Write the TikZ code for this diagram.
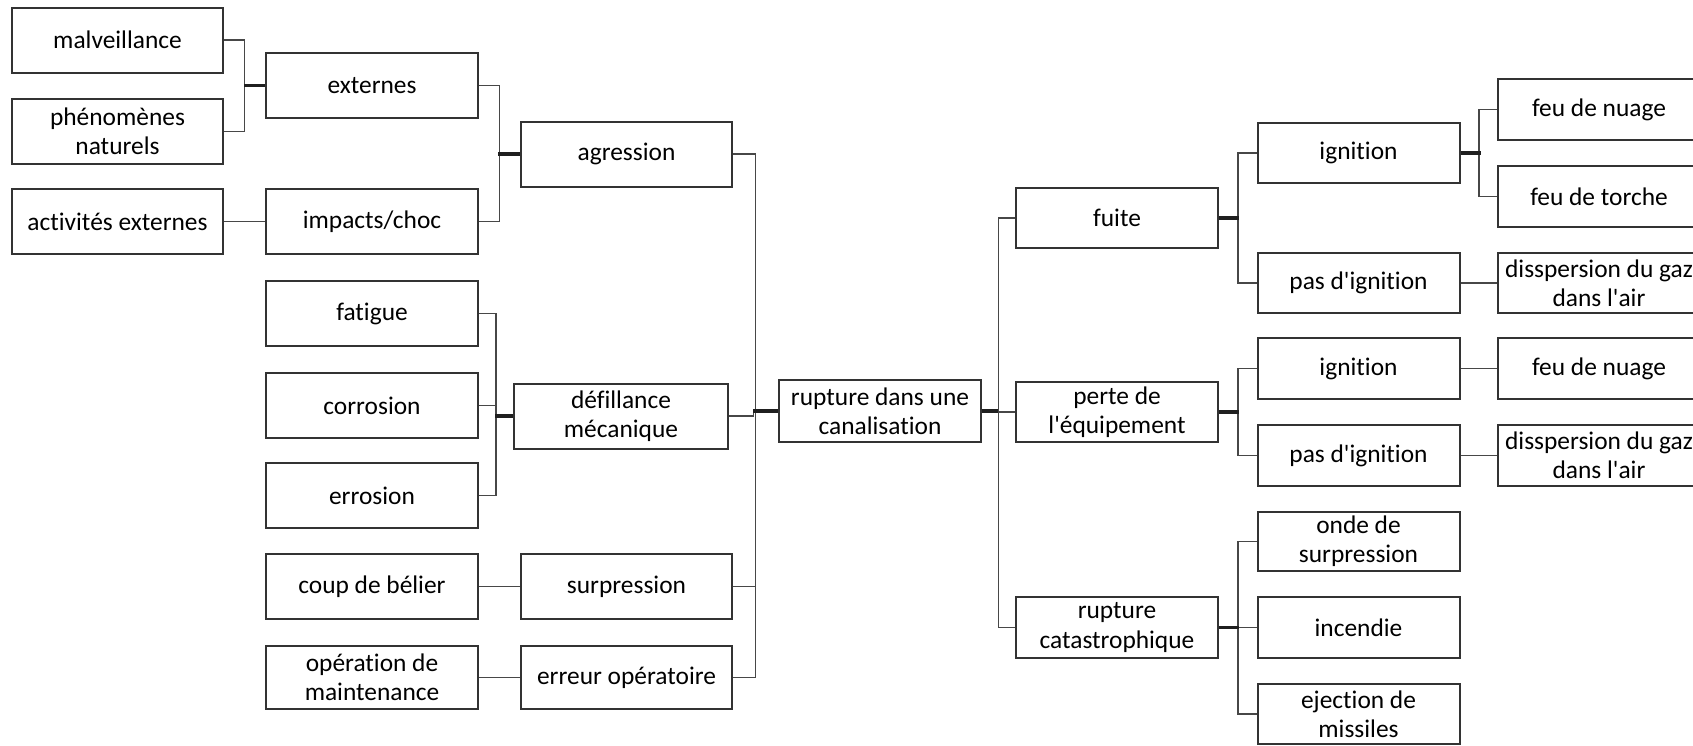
\documentclass[tikz,border=0pt]{standalone}
\usepackage{fontspec}
\newfontfamily\boxfont[Ligatures=NoCommon]{Carlito}
\usetikzlibrary{calc}

% units: one step = one pixel of the drawing, y grows downwards
\tikzset{
  x=0.5pt, y=-0.5pt,
  box/.style={draw=black!80, line width=1pt, fill=white, align=center,
    inner sep=0pt, font=\boxfont\fontsize{12.7}{14.6}\selectfont,
    minimum height=32.5pt},
  wa/.style={minimum width=105.5pt},
  wb/.style={minimum width=106pt},
  wc/.style={minimum width=101pt},
  conn/.style={draw=black!72, line width=0.8pt},
  trunk/.style={draw=black!88, line width=1.6pt},
}
% elbow connector, parent on the right / on the left
\newcommand\linkL[2]{\draw[conn] (#1.west) -| ($(#1.west)!.5!(#2.east)$) |- (#2.east);}
\newcommand\linkR[2]{\draw[conn] (#1.east) -| ($(#1.east)!.5!(#2.west)$) |- (#2.west);}
% shared trunk of a parent with several children
\newcommand\trunkL[2]{\draw[trunk] (#1.west) -- ++(-#2,0);}
\newcommand\trunkR[2]{\draw[trunk] (#1.east) -- ++(#2,0);}

\begin{document}
\begin{tikzpicture}
\useasboundingbox (0,0) rectangle (1693,745);
\clip (0,0) rectangle (1693,745);
\fill[white] (0,0) rectangle (1693,745);

% causes, outer column
\node[box,wa] (malv)  at (117.5,40)  {malveillance};
\node[box,wa] (phen)  at (117.5,131.5) {phénomènes\\naturels};
\node[box,wa] (activ) at (117.5,221.5) {activités externes};

% causes, middle column
\node[box,wb] (ext)   at (372,85.5)  {externes};
\node[box,wb] (imp)   at (372,221.5) {impacts/choc};
\node[box,wb] (fat)   at (372,313.5) {fatigue};
\node[box,wb] (corr)  at (372,405.5) {corrosion};
\node[box,wb] (err)   at (372,495.5) {errosion};
\node[box,wb] (coup)  at (372,586.5) {coup de bélier};
\node[box,wb,minimum height=31.5pt] (oper) at (372,677.5) {opération de\\maintenance};

% causes, inner column
\node[box,wa] (agr)   at (626.5,154) {agression};
\node[box,minimum width=107pt] (def) at (621,416) {défillance\\mécanique};
\node[box,wa] (surp)  at (626.5,586.5) {surpression};
\node[box,wa,minimum height=31.5pt] (erop) at (626.5,677.5) {erreur opératoire};

% central event
\node[box,wc,minimum height=31pt] (rupt) at (880,411) {rupture dans une\\canalisation};

% consequences, first column
\node[box,wc,minimum height=30pt] (fuite) at (1117,218) {fuite};
\node[box,wc,minimum height=30pt] (perte) at (1117,412) {perte de\\l'équipement};
\node[box,wc,minimum height=30.5pt] (rcat) at (1117,627.5) {rupture\\catastrophique};

% consequences, second column
\node[box,wc,minimum height=30pt] (ign1) at (1358.5,153) {ignition};
\node[box,wc,minimum height=30pt] (pas1) at (1358.5,283) {pas d'ignition};
\node[box,wc,minimum height=30.5pt] (ign2) at (1358.5,368.5) {ignition};
\node[box,wc,minimum height=30.5pt] (pas2) at (1358.5,455.5) {pas d'ignition};
\node[box,wc,minimum height=29.5pt] (onde) at (1358.5,541.5) {onde de\\surpression};
\node[box,wc,minimum height=30.5pt] (inc)  at (1358.5,627.5) {incendie};
\node[box,wc,minimum height=30pt] (ejec) at (1358.5,714) {ejection de\\missiles};

% consequences, last column
\node[box,wc,minimum height=30.5pt] (feu1) at (1599,109.5) {feu de nuage};
\node[box,wc,minimum height=30.5pt] (torc) at (1599,196.5) {feu de torche};
\node[box,wc,minimum height=30pt] (dis1) at (1599,283) {disspersion du gaz\\dans l'air};
\node[box,wc,minimum height=30.5pt] (feu2) at (1599,368.5) {feu de nuage};
\node[box,wc,minimum height=30.5pt] (dis2) at (1599,455.5) {disspersion du gaz\\dans l'air};

% connectors on the causes side
\linkL{ext}{malv}  \linkL{ext}{phen}   \trunkL{ext}{21}
\linkL{imp}{activ}
\linkL{agr}{ext}   \linkL{agr}{imp}    \trunkL{agr}{22}
\linkL{def}{fat}   \linkL{def}{corr}   \linkL{def}{err}  \trunkL{def}{18}
\linkL{surp}{coup}
\linkL{erop}{oper}
\linkL{rupt}{agr}  \linkL{rupt}{def}   \linkL{rupt}{surp} \linkL{rupt}{erop}
\trunkL{rupt}{25}

% connectors on the consequences side
\linkR{rupt}{fuite} \linkR{rupt}{perte} \linkR{rupt}{rcat} \trunkR{rupt}{16}
\linkR{fuite}{ign1} \linkR{fuite}{pas1} \trunkR{fuite}{20}
\linkR{perte}{ign2} \linkR{perte}{pas2} \trunkR{perte}{20}
\linkR{rcat}{onde}  \linkR{rcat}{inc}   \linkR{rcat}{ejec} \trunkR{rcat}{20}
\linkR{ign1}{feu1}  \linkR{ign1}{torc}  \trunkR{ign1}{20}
\linkR{pas1}{dis1}
\linkR{ign2}{feu2}
\linkR{pas2}{dis2}
\end{tikzpicture}
\end{document}
